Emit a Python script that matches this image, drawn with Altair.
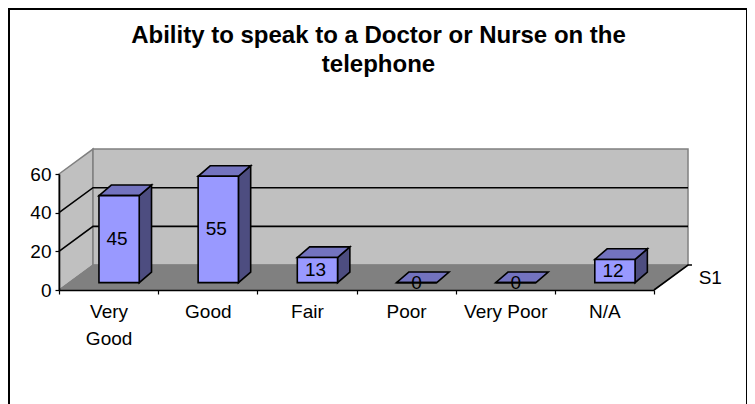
import json
import altair as alt
import pandas as pd

TITLE = ["Ability to speak to a Doctor or Nurse on the", "telephone"]
CATEGORIES = ["Very|Good", "Good", "Fair", "Poor", "Very Poor", "N/A"]
VALUES = [45, 55, 13, 0, 0, 12]
Y_TICKS = [0, 20, 40, 60]
GRID_LEVELS = [20, 40]
SERIES = "S1"

FONT = "Liberation Sans"
FS = 19
# 3D projection, in scale units
DX, DY = 0.343, 12.9            # depth of the box
BAR_X0, BAR_W = 0.403, 0.406    # bar start within a category, bar width
BAR_Y0 = 3.8                    # bar base lifted off the front edge
BAR_DX, BAR_DY = 0.124, 5.5     # depth of a bar
N = len(CATEGORIES)
YMAX = Y_TICKS[-1]

X = alt.Scale(domain=[0, N], nice=False, zero=False)
Y = alt.Scale(domain=[0, YMAX], nice=False, zero=False)
label_js = json.dumps(CATEGORIES)
X_AXIS = alt.Axis(
    values=list(range(N + 1)), grid=False, title=None, domainColor="black", domainWidth=1.6,
    tickColor="black", tickSize=4, tickWidth=1.2, zindex=1,
    labelExpr=f"datum.value < {N} ? split({label_js}[datum.value], '|') : ''",
    labelOffset=49.6, labelPadding=8, labelFont=FONT, labelFontSize=FS,
    labelColor="black", labelOverlap=False, labelFlush=False, labelBound=False,
    labelLineHeight=27)
Y_AXIS = alt.Axis(
    values=Y_TICKS, grid=False, title=None, domainColor="black", domainWidth=1.6,
    tickColor="black", tickSize=4, tickWidth=1.2, zindex=1, labelPadding=4,
    labelFont=FONT, labelFontSize=FS, labelColor="black",
    labelOverlap=False, labelFlush=False, labelBound=False)
x_q = alt.X("x:Q", scale=X, axis=X_AXIS)
y_q = alt.Y("y:Q", scale=Y, axis=Y_AXIS, stack=None)


def vertical_face(rows, color, stroke, width):
    return alt.Chart(pd.DataFrame(rows)).mark_area(
        color=color, opacity=1, orient="vertical", stroke=stroke, strokeWidth=width
    ).encode(x=x_q, y=y_q, y2="y2:Q", detail="id:N")


def horizontal_face(rows, color, stroke, width):
    return alt.Chart(pd.DataFrame(rows)).mark_area(
        color=color, opacity=1, orient="horizontal", stroke=stroke, strokeWidth=width
    ).encode(x=x_q, x2="x2:Q", y=y_q, detail="id:N")


# walls and floor
left_wall = vertical_face(
    [{"id": 0, "x": 0, "y": YMAX, "y2": 0}, {"id": 0, "x": DX, "y": YMAX + DY, "y2": DY}],
    "#C0C0C0", "#808080", 1.5)
back_wall = vertical_face(
    [{"id": 0, "x": DX, "y": YMAX + DY, "y2": DY}, {"id": 0, "x": N + DX, "y": YMAX + DY, "y2": DY}],
    "#C0C0C0", "#808080", 1.5)
floor = horizontal_face(
    [{"id": 0, "x": 0, "x2": N, "y": 0}, {"id": 0, "x": DX, "x2": N + DX, "y": DY}],
    "#808080", "#808080", 1)

# gridlines around the walls
grid_rows = []
for lv in GRID_LEVELS:
    grid_rows += [
        {"id": lv, "o": 0, "x": 0, "y": lv},
        {"id": lv, "o": 1, "x": DX, "y": lv + DY},
        {"id": lv, "o": 2, "x": N + DX, "y": lv + DY},
    ]
grid = alt.Chart(pd.DataFrame(grid_rows)).mark_line(color="black", strokeWidth=1.6).encode(
    x=x_q, y=y_q, detail="id:N", order="o:Q")

# depth edge with the series label
depth_edge = alt.Chart(pd.DataFrame([
    {"o": 0, "x": N, "y": 0},
    {"o": 1, "x": N + DX, "y": DY},
    {"o": 2, "x": N + DX + 0.04, "y": DY},
])).mark_line(color="black", strokeWidth=1.6).encode(x=x_q, y=y_q, order="o:Q")

series_label = alt.Chart(pd.DataFrame([{"x": N + DX + 0.225, "y": 6.0, "t": SERIES}])).mark_text(
    font=FONT, fontSize=FS, color="black").encode(x=x_q, y=y_q, text="t:N")

# bars
sides, tops, fronts, labels = [], [], [], []
for i, v in enumerate(VALUES):
    x0 = i + BAR_X0
    x1 = x0 + BAR_W
    y0 = BAR_Y0
    y1 = BAR_Y0 + v
    if v > 0:
        sides += [{"id": i, "x": x1, "y": y1, "y2": y0},
                  {"id": i, "x": x1 + BAR_DX, "y": y1 + BAR_DY, "y2": y0 + BAR_DY}]
    tops += [{"id": i, "x": x0, "x2": x1, "y": y1},
             {"id": i, "x": x0 + BAR_DX, "x2": x1 + BAR_DX, "y": y1 + BAR_DY}]
    fronts.append({"x": x0, "x2": x1, "y": y0, "y2": y1})
    nudge = 0.02 if v >= 10 else 0
    labels.append({"x": (x0 + x1) / 2 - nudge, "y": (y0 + y1) / 2, "t": str(v)})

bar_sides = vertical_face(sides, "#4D4D80", "black", 1.6)
bar_tops = horizontal_face(tops, "#7373BF", "black", 1.6)
bar_fronts = alt.Chart(pd.DataFrame(fronts)).mark_bar(
    color="#9999FF", stroke="black", strokeWidth=1.6, opacity=1
).encode(x=x_q, x2="x2:Q", y=y_q, y2="y2:Q")
bar_labels = alt.Chart(pd.DataFrame(labels)).mark_text(
    font=FONT, fontSize=FS, color="black", baseline="middle"
).encode(x=x_q, y=y_q, text="t:N")

frame = alt.Chart(pd.DataFrame([{"k": 1}])).mark_rect(
    filled=False, stroke="black", strokeWidth=2
).encode(x=alt.value(-50), x2=alt.value(688), y=alt.value(-165), y2=alt.value(300))

chart = alt.layer(
    left_wall, back_wall, floor, grid, depth_edge, series_label,
    bar_sides, bar_tops, bar_fronts, bar_labels, frame,
).properties(
    width=595, height=116,
    title=alt.TitleParams(
        text=TITLE, font=FONT, fontSize=24, fontWeight="bold", color="black",
        anchor="middle", frame="group", dx=22, offset=-69, lineHeight=29),
    autosize=alt.AutoSizeParams(type="none"),
    padding={"left": 51, "top": 166, "right": 93, "bottom": 114},
    background="white",
).configure_view(stroke=None)

chart.save("out.html", embed_options={"renderer": "svg", "actions": False})
